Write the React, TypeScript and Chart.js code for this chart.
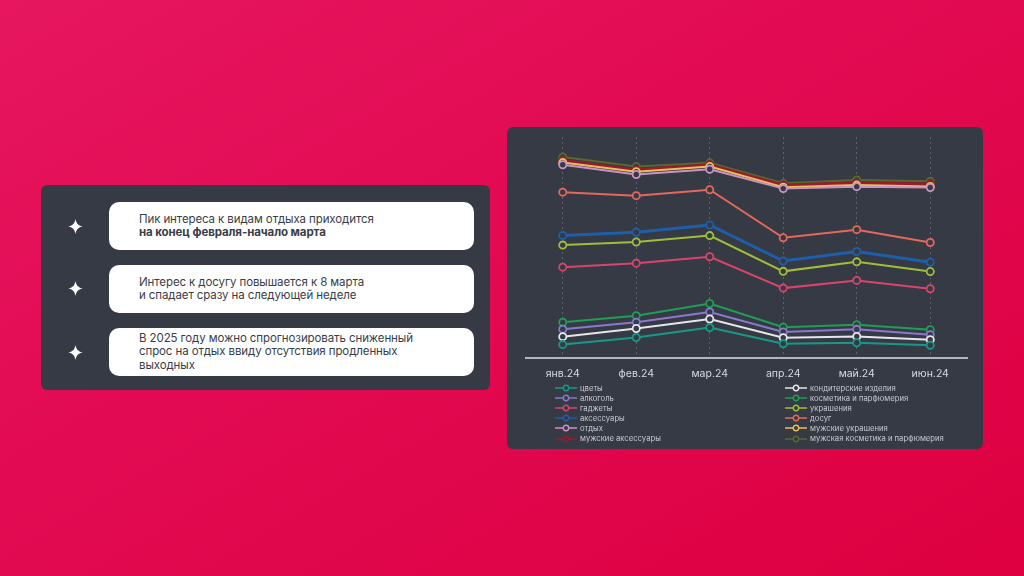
import React, { useEffect, useRef } from "react";
import { Chart, registerables } from "chart.js";

Chart.register(...registerables);

const categories = ["янв.24", "фев.24", "мар.24", "апр.24", "май.24", "июн.24"];

const seriesNames = [
  "цветы",
  "кондитерские изделия",
  "алкоголь",
  "косметика и парфюмерия",
  "гаджеты",
  "украшения",
  "аксессуары",
  "досуг",
  "отдых",
  "мужские украшения",
  "мужские аксессуары",
  "мужская косметика и парфюмерия",
];

const flowers = [5.9, 9.1, 13.6, 6.3, 6.7, 5.6];
const confectionery = [9.5, 13.2, 17.5, 9.0, 9.6, 8.1];
const alcohol = [12.9, 16.0, 20.7, 11.6, 12.8, 10.4];
const cosmetics = [16.0, 19.0, 24.5, 13.8, 14.9, 12.6];
const gadgets = [41.0, 42.8, 45.7, 31.5, 35.0, 31.2];
const jewelry = [51.0, 52.4, 55.3, 39.1, 43.4, 39.0];
const accessories = [55.4, 56.8, 60.1, 43.8, 48.1, 43.2];
const leisure = [75.0, 73.4, 76.1, 54.3, 58.0, 52.2];
const rest = [87.4, 83.0, 85.4, 76.6, 77.5, 77.1];
const menJewelry = [88.4, 84.3, 86.6, 77.2, 78.2, 77.6];
const menAccessories = [89.4, 85.1, 87.4, 78.2, 79.1, 78.7];
const menCosmetics = [90.9, 86.6, 88.3, 79.0, 80.5, 79.9];

const seriesValues = [
  flowers,
  confectionery,
  alcohol,
  cosmetics,
  gadgets,
  jewelry,
  accessories,
  leisure,
  rest,
  menJewelry,
  menAccessories,
  menCosmetics,
];

const seriesColors = [
  "#17998a",
  "#e6e6ea",
  "#8a78cc",
  "#1f9e58",
  "#d9446c",
  "#9fbf3a",
  "#1d5fa8",
  "#e4685c",
  "#c994c4",
  "#e9bf5c",
  "#9a1c2a",
  "#56692e",
];

const seriesWidths = [2, 2, 2, 2, 2, 2, 3, 2, 2, 2, 3, 2];

const PANEL_BG = "#363a45";

const notes: React.ReactNode[] = [
  <>
    Пик интереса к видам отдыха приходится
    <br />
    <b>на конец февраля-начало марта</b>
  </>,
  <>
    Интерес к досугу повышается к 8 марта
    <br />
    и спадает сразу на следующей неделе
  </>,
  <>
    В 2025 году можно спрогнозировать сниженный
    <br />
    спрос на отдых ввиду отсутствия продленных
    <br />
    выходных
  </>,
];

function Sparkle({ x, y }: { x: number; y: number }) {
  return (
    <svg
      width={15}
      height={15}
      viewBox="0 0 20 20"
      style={{ position: "absolute", left: x - 7.5, top: y - 7.5 }}
    >
      <path
        d="M10 0 C11 6 14 9 20 10 C14 11 11 14 10 20 C9 14 6 11 0 10 C6 9 9 6 10 0 Z"
        fill="#ffffff"
      />
    </svg>
  );
}

function LegendMarker({ color }: { color: string }) {
  return (
    <svg width={22} height={8} style={{ display: "block", flex: "0 0 auto" }}>
      <line x1={0} y1={4} x2={22} y2={4} stroke={color} strokeWidth={1.5} />
      <circle cx={11} cy={4} r={2.7} fill={PANEL_BG} stroke={color} strokeWidth={1.4} />
    </svg>
  );
}

function LineChart() {
  const ref = useRef<HTMLCanvasElement | null>(null);
  useEffect(() => {
    if (!ref.current) return;
    const chart = new Chart(ref.current, {
      type: "line",
      data: {
        labels: categories,
        datasets: seriesNames.map((name, i) => ({
          label: name,
          data: seriesValues[i],
          borderColor: seriesColors[i],
          backgroundColor: PANEL_BG,
          borderWidth: seriesWidths[i],
          pointRadius: 3.6,
          pointBorderWidth: 1.8,
          pointBackgroundColor: PANEL_BG,
          pointBorderColor: seriesColors[i],
          tension: 0,
          fill: false,
        })),
      },
      options: {
        responsive: false,
        maintainAspectRatio: false,
        animation: false,
        layout: { padding: { left: 19, right: 16, top: 10, bottom: 3.8 } },
        plugins: {
          legend: { display: false },
          tooltip: { enabled: false },
        },
        scales: {
          x: {
            offset: true,
            grid: {
              offset: false,
              color: "#5e626e",
              lineWidth: 1,
              drawTicks: false,
            },
            border: { display: true, color: "#b4b6be", width: 2, dash: [2, 3] },
            ticks: {
              color: "#d8d9e0",
              padding: 10,
              font: { family: "Inter", size: 10.5 },
            },
          },
          y: {
            display: false,
            min: 0,
            max: 100,
          },
        },
      },
    });
    return () => chart.destroy();
  }, []);
  return (
    <canvas
      ref={ref}
      width={476}
      height={267}
      style={{ position: "absolute", left: 0, top: 0, width: 476, height: 267 }}
    />
  );
}

export default function App() {
  const legendRows: number[][] = [];
  for (let i = 0; i < seriesNames.length; i += 2) legendRows.push([i, i + 1]);
  return (
    <div
      style={{
        position: "fixed",
        left: 0,
        top: 0,
        width: 1024,
        height: 576,
        overflow: "hidden",
        background: "linear-gradient(150deg, #e6165f 0%, #e20a52 45%, #de0040 100%)",
        fontFamily: "Inter, 'Noto Sans', sans-serif",
      }}
    >
      {/* left panel */}
      <div
        style={{
          position: "absolute",
          left: 41,
          top: 185,
          width: 449,
          height: 205,
          background: PANEL_BG,
          borderRadius: 6,
        }}
      />
      {[226, 288, 352].map((y, i) => (
        <Sparkle key={i} x={75} y={y} />
      ))}
      {notes.map((n, i) => (
        <div
          key={i}
          style={{
            position: "absolute",
            left: 109,
            top: 202 + i * 63,
            width: 365,
            height: 48,
            background: "#ffffff",
            borderRadius: 10,
            display: "flex",
            alignItems: "center",
            boxSizing: "border-box",
            paddingLeft: 30,
            fontSize: 11.5,
            lineHeight: "13.4px",
            color: "#3a3d47",
            letterSpacing: -0.1,
          }}
        >
          <div>{n}</div>
        </div>
      ))}

      {/* chart panel */}
      <div
        style={{
          position: "absolute",
          left: 507,
          top: 127,
          width: 476,
          height: 322,
          background: PANEL_BG,
          borderRadius: 6,
        }}
      >
        <LineChart />
        <div
          style={{
            position: "absolute",
            left: 48,
            top: 256,
            width: 420,
            display: "grid",
            gridTemplateColumns: "230px 190px",
            gridAutoRows: "10.1px",
          }}
        >
          {legendRows.map((row) =>
            row.map((idx) => (
              <div
                key={idx}
                style={{
                  display: "flex",
                  alignItems: "center",
                  height: 10.1,
                  fontSize: 7.7,
                  color: "#c6c8d0",
                  whiteSpace: "nowrap",
                }}
              >
                <LegendMarker color={seriesColors[idx]} />
                <span style={{ marginLeft: 3 }}>{seriesNames[idx]}</span>
              </div>
            ))
          )}
        </div>
      </div>
    </div>
  );
}
